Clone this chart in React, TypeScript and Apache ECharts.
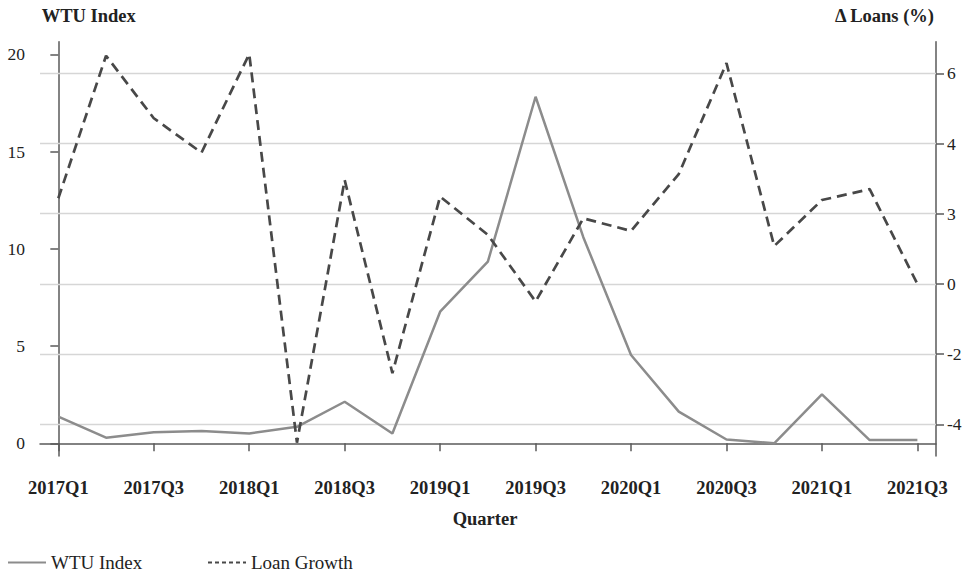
import React, { useEffect, useRef } from "react";
import * as echarts from "echarts";

const quarters = [
  "2017Q1", "2017Q2", "2017Q3", "2017Q4",
  "2018Q1", "2018Q2", "2018Q3", "2018Q4",
  "2019Q1", "2019Q2", "2019Q3", "2019Q4",
  "2020Q1", "2020Q2", "2020Q3", "2020Q4",
  "2021Q1", "2021Q2", "2021Q3",
];
const wtuIndex = [1.37, 0.29, 0.57, 0.63, 0.51, 0.85, 2.14, 0.51, 6.77, 9.34, 17.82, 10.6, 4.54, 1.63, 0.2, 0.0, 2.52, 0.17, 0.17];
const loanGrowth = [2.44, 6.5, 4.72, 3.74, 6.55, -4.52, 2.96, -2.54, 2.49, 1.4, -0.5, 1.87, 1.51, 3.13, 6.29, 1.08, 2.39, 2.7, 0.0];
const xTickIdx = [0, 2, 4, 6, 8, 10, 12, 14, 16, 18];
const leftTicks = [0, 5, 10, 15, 20];
const rightTicks = [-4, -2, 0, 2, 4, 6];
const rightTickLabels = ["-4", "-2", "0", "3", "4", "6"];

const FONT = "Liberation Serif";

export default function App() {
  const ref = useRef<HTMLDivElement>(null);
  useEffect(() => {
    document.body.style.margin = "0";
    const chart = echarts.init(ref.current!, null, { renderer: "svg" });
    const axisLineStyle = { color: "#5a5a5a", width: 1.5 };
    const legendText = { fontFamily: FONT, fontSize: 19, color: "#222" };
    chart.setOption({
      animation: false,
      backgroundColor: "#ffffff",
      grid: { left: 40, right: 34, top: 41.7, bottom: 117 },
      xAxis: {
        type: "value",
        min: -0.384,
        max: 18.39,
        axisLine: { show: true, lineStyle: axisLineStyle },
        axisTick: { show: true, length: 8, customValues: xTickIdx, lineStyle: axisLineStyle },
        axisLabel: {
          customValues: xTickIdx,
          formatter: (v: number) => quarters[Math.round(v)] ?? "",
          fontFamily: FONT,
          fontSize: 18.5,
          fontWeight: "bold",
          color: "#222",
          margin: 22,
        },
        splitLine: { show: false },
      },
      yAxis: [
        {
          type: "value",
          position: "left",
          min: -0.65,
          max: 20.65,
          axisLine: { show: true, lineStyle: axisLineStyle },
          axisTick: { show: true, length: 8, customValues: leftTicks, lineStyle: axisLineStyle },
          axisLabel: { customValues: leftTicks, fontFamily: FONT, fontSize: 17.5, color: "#222", margin: 15 },
          splitLine: { show: false },
        },
        {
          type: "value",
          position: "right",
          min: -4.9,
          max: 6.9,
          axisLine: { show: true, lineStyle: axisLineStyle },
          axisTick: { show: true, length: 8, customValues: rightTicks, lineStyle: axisLineStyle },
          axisLabel: {
            customValues: rightTicks,
            formatter: (v: number) => {
              const i = rightTicks.indexOf(Math.round(v));
              return i >= 0 ? rightTickLabels[i] : "";
            },
            fontFamily: FONT,
            fontSize: 17.5,
            color: "#222",
            margin: 11,
          },
          splitLine: { show: false },
        },
      ],
      legend: [
        {
          left: 7,
          top: 553,
          padding: 0,
          itemWidth: 38,
          itemHeight: 14,
          data: ["WTU Index"],
          itemStyle: { opacity: 0 },
          textStyle: legendText,
          selectedMode: false,
        },
        {
          left: 207,
          top: 553,
          padding: 0,
          itemWidth: 38,
          itemHeight: 14,
          data: ["Loan Growth"],
          itemStyle: { opacity: 0 },
          lineStyle: { type: [4, 3] },
          textStyle: legendText,
          selectedMode: false,
        },
      ],
      graphic: [
        {
          type: "text",
          left: 41.7,
          top: 6,
          style: { text: "WTU Index", font: `bold 18.5px '${FONT}'`, fill: "#222" },
        },
        {
          type: "text",
          right: 35,
          top: 6,
          style: { text: "Δ Loans (%)", font: `bold 18.5px '${FONT}'`, fill: "#222" },
        },
        {
          type: "text",
          x: 485,
          y: 519,
          style: {
            text: "Quarter",
            font: `bold 18.5px '${FONT}'`,
            fill: "#222",
            align: "center",
            verticalAlign: "middle",
          },
        },
      ],
      series: [
        {
          name: "WTU Index",
          type: "line",
          yAxisIndex: 0,
          z: 10,
          symbol: "none",
          showSymbol: false,
          data: wtuIndex.map((v, i) => [i, v]),
          lineStyle: { color: "#8c8c8c", width: 2.5, type: "solid" },
          itemStyle: { color: "#8c8c8c" },
        },
        {
          name: "Loan Growth",
          type: "line",
          yAxisIndex: 1,
          z: 10,
          symbol: "none",
          showSymbol: false,
          data: loanGrowth.map((v, i) => [i, v]),
          lineStyle: { color: "#484848", width: 2.7, type: [10, 6] },
          itemStyle: { color: "#484848" },
          markLine: {
            silent: true,
            z: 1,
            symbol: ["none", "none"],
            label: { show: false },
            lineStyle: { color: "#d6d6d6", width: 1.4, type: "solid" },
            data: rightTicks.map((v) => ({ yAxis: v })),
          },
        },
      ],
    });
    return () => chart.dispose();
  }, []);
  return <div ref={ref} style={{ width: 970, height: 573 }} />;
}
